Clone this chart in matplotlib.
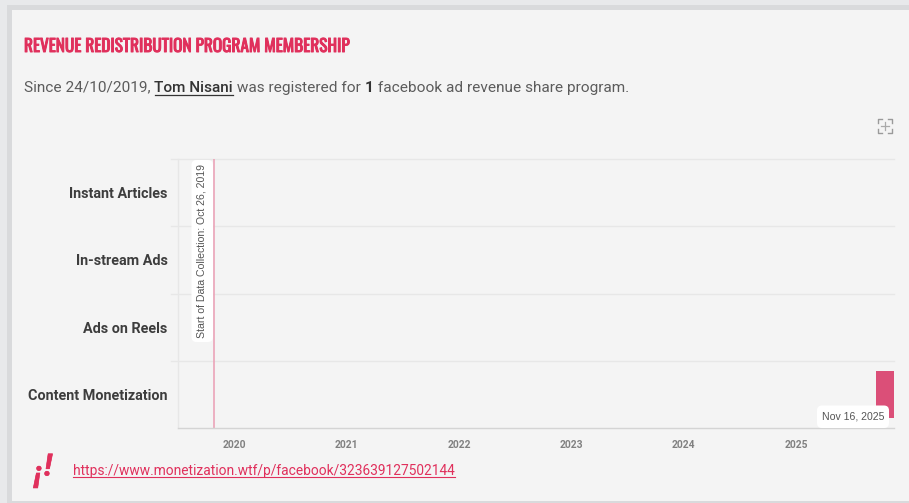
import matplotlib
matplotlib.use("Agg")
import matplotlib.dates as mdates
import matplotlib.patheffects as pe
import matplotlib.pyplot as plt
from matplotlib.patches import FancyBboxPatch, Rectangle
import pandas as pd

W, H = 909, 503

programs = ["Instant Articles", "In-stream Ads", "Ads on Reels", "Content Monetization"]
bar_program = "Content Monetization"
bar_start = "2025-09-18"
bar_end = "2025-11-16"
data_start = "2019-10-26"
range_start = "2019-07-02"
range_end = "2025-11-16"
years = [2020, 2021, 2022, 2023, 2024, 2025]

title = "REVENUE REDISTRIBUTION PROGRAM MEMBERSHIP"
link = "https://www.monetization.wtf/p/facebook/323639127502144"

RED = "#e0305c"
BAR = "#db4f78"
GRID = "#e7e7e7"
PANEL = "#f4f4f4"

fig = plt.figure(figsize=(W / 100, H / 100), dpi=100, facecolor="#e8e9eb")

# page layer, in pixels from the top left
bg = fig.add_axes([0, 0, 1, 1])
bg.set_xlim(0, W)
bg.set_ylim(H, 0)
bg.axis("off")
bg.add_patch(Rectangle((7, 5), W, H, fc="#d9dadc", ec="none"))
bg.add_patch(Rectangle((12, 10), W, 491, fc=PANEL, ec="none"))

# the Oswald here only comes in one weight, a thin stroke makes it bold
bg.text(24, 46.5, title, family=["Oswald", "DejaVu Sans"], fontsize=12.45, color=RED, va="center",
        path_effects=[pe.withStroke(linewidth=0.7, foreground=RED)])

# sentence with mixed weights, each piece starts where the last one stopped
fig.canvas.draw()
renderer = fig.canvas.get_renderer()
x = 24
pieces = [
    ("Since 24/10/2019, ", "normal", "#5c5c5c", False),
    ("Tom Nisani", "medium", "#333333", True),
    (" was registered for ", "normal", "#5c5c5c", False),
    ("1", "bold", "#333333", False),
    (" facebook ad revenue share program.", "normal", "#5c5c5c", False),
]
for text, weight, color, under in pieces:
    t = bg.text(x, 87.5, text.replace(" ", "\u00a0"), family="Roboto", fontsize=11.05,
                fontweight=weight, color=color, va="center")
    width = t.get_window_extent(renderer).width
    if under:
        bg.plot([x, x + width], [95, 95], color="#333333", lw=0.9)
    x += width

# zoom icon
for cx, cy, dx, dy in [(878, 119, 1, 1), (892, 119, -1, 1), (878, 133, 1, -1), (892, 133, -1, -1)]:
    bg.plot([cx + 4 * dx, cx, cx], [cy, cy, cy + 4 * dy], color="#9a9a9a", lw=1)
bg.plot([881, 889], [126, 126], color="#aaaaaa", lw=0.9)
bg.plot([885, 885], [122, 130], color="#aaaaaa", lw=0.9)

# logo and link
logo_fx = [pe.withStroke(linewidth=0.4, foreground=RED)]
bg.text(38, 474, "¡", family="Roboto", fontsize=22, fontweight="bold", style="italic",
        color=RED, ha="center", va="center", path_effects=logo_fx)
bg.text(48, 467, "!", family="Roboto", fontsize=22, fontweight="bold", style="italic",
        color=RED, ha="center", va="center", path_effects=logo_fx)
t = bg.text(73, 470.5, link, family="Roboto", fontsize=9.95, color=RED, va="center")
bg.plot([73, 73 + t.get_window_extent(renderer).width], [477, 477], color=RED, lw=0.8)

# chart: plot area is x 178-894, y 159-428
ax = fig.add_axes([178 / W, 1 - 428 / H, (894 - 178) / W, (428 - 159) / H])
ax.patch.set_alpha(0)
ax.set_xlim(pd.Timestamp(range_start), pd.Timestamp(range_end))
ax.set_ylim(len(programs), 0)
for s in ["top", "right"]:
    ax.spines[s].set_visible(False)
ax.spines["left"].set_color(GRID)
ax.spines["bottom"].set_color("#d4d4d4")
ax.spines["left"].set_linewidth(1)
ax.spines["bottom"].set_linewidth(1)

ax.set_yticks([i + 0.5 for i in range(len(programs))], programs, family="Roboto", fontsize=10.4,
              fontweight="bold", color="#3d3d3d", va="center_baseline")
ax.tick_params(axis="y", length=0, pad=7.5)
ax.set_xticks([pd.Timestamp(f"{y}-01-01") for y in years], [str(y) for y in years], fontsize=7.4,
              family="Roboto", fontweight="bold", color="#808080")
ax.tick_params(axis="x", length=0, pad=9)
ax.xaxis.set_major_formatter(mdates.DateFormatter("%Y"))

# row separators stick out a little to the left of the axis
for i in range(len(programs)):
    ax.plot([-7 / 716, 1], [i, i], color=GRID, lw=1, clip_on=False,
            transform=ax.get_yaxis_transform())

row = programs.index(bar_program)
ax.barh(row + 0.5, pd.Timestamp(bar_end) - pd.Timestamp(bar_start), left=pd.Timestamp(bar_start),
        height=0.7, color=BAR, zorder=2)

ax.axvline(pd.Timestamp(data_start), color="#eba4b8", lw=1.2, zorder=2)

# white labels sit on the page layer coordinates
lab = fig.add_axes([0, 0, 1, 1])
lab.set_xlim(0, W)
lab.set_ylim(H, 0)
lab.axis("off")
lab.add_patch(FancyBboxPatch((191.5, 160), 21.5, 182, boxstyle="round,pad=0,rounding_size=5",
                             fc="white", ec="none", zorder=3))
lab.text(201.7, 251.5, "Start of Data Collection: Oct 26, 2019", rotation=90, family="Liberation Sans",
         fontsize=7.6, color="#555555", ha="center", va="center", zorder=4)
lab.add_patch(FancyBboxPatch((817, 405.5), 72, 22.5, boxstyle="round,pad=0,rounding_size=5",
                             fc="white", ec="none", zorder=3))
lab.text(853.5, 416.5, "Nov 16, 2025", family="Liberation Sans", fontsize=7.55, color="#555555",
         ha="center", va="center", zorder=4)

fig.savefig("out.png", dpi=100, facecolor=fig.get_facecolor())
